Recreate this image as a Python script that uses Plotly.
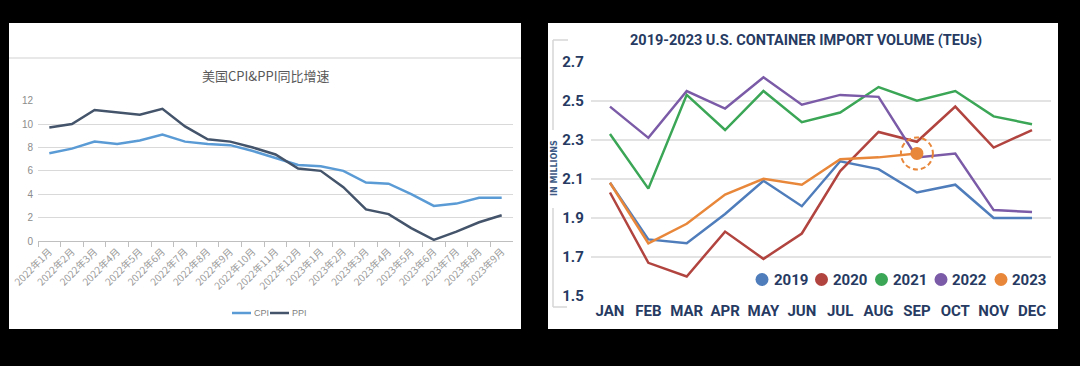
import plotly.graph_objects as go

W, H = 1080, 366

# ---------------- data: left chart ----------------
months_cn = ["2022年1月", "2022年2月", "2022年3月", "2022年4月", "2022年5月", "2022年6月",
             "2022年7月", "2022年8月", "2022年9月", "2022年10月", "2022年11月", "2022年12月",
             "2023年1月", "2023年2月", "2023年3月", "2023年4月", "2023年5月", "2023年6月",
             "2023年7月", "2023年8月", "2023年9月"]
cpi = [7.5, 7.9, 8.5, 8.3, 8.6, 9.1, 8.5, 8.3, 8.2, 7.7, 7.1, 6.5, 6.4, 6.0, 5.0, 4.9, 4.0, 3.0, 3.2, 3.7, 3.7]
ppi = [9.7, 10.0, 11.2, 11.0, 10.8, 11.3, 9.8, 8.7, 8.5, 8.0, 7.4, 6.2, 6.0, 4.6, 2.7, 2.3, 1.1, 0.1, 0.8, 1.6, 2.2]
left_yticks = [0, 2, 4, 6, 8, 10, 12]

# ---------------- data: right chart ----------------
months_en = ["JAN", "FEB", "MAR", "APR", "MAY", "JUN", "JUL", "AUG", "SEP", "OCT", "NOV", "DEC"]
v2019 = [2.08, 1.79, 1.77, 1.92, 2.09, 1.96, 2.19, 2.15, 2.03, 2.07, 1.90, 1.90]
v2020 = [2.03, 1.67, 1.60, 1.83, 1.69, 1.82, 2.14, 2.34, 2.29, 2.47, 2.26, 2.35]
v2021 = [2.33, 2.05, 2.53, 2.35, 2.55, 2.39, 2.44, 2.57, 2.50, 2.55, 2.42, 2.38]
v2022 = [2.47, 2.31, 2.55, 2.46, 2.62, 2.48, 2.53, 2.52, 2.21, 2.23, 1.94, 1.93]
v2023 = [2.08, 1.77, 1.87, 2.02, 2.10, 2.07, 2.20, 2.21, 2.23]
right_yticks = [1.5, 1.7, 1.9, 2.1, 2.3, 2.5, 2.7]
years = ["2019", "2020", "2021", "2022", "2023"]
year_colors = ["#4f7dbb", "#b2443f", "#3aa656", "#7b5ba7", "#e8873a"]

NAVY = "#263a62"
CFONT = "Roboto"

# right plot geometry (px), used to turn a pixel radius into axis units
R_X0, R_X1 = 590.8, 1051.2
R_Y0, R_Y1 = 296, 61.7


def px_x(p):
    return p / W


def px_y(p):
    return 1 - p / H


fig = go.Figure()

# left chart traces
fig.add_trace(go.Scatter(x=months_cn, y=cpi, mode="lines", line=dict(color="#5b9bd5", width=2.5),
                         xaxis="x", yaxis="y", showlegend=False, name="CPI"))
fig.add_trace(go.Scatter(x=months_cn, y=ppi, mode="lines", line=dict(color="#44546a", width=2.5),
                         xaxis="x", yaxis="y", showlegend=False, name="PPI"))

# right chart traces
for name, vals, col in zip(years, [v2019, v2020, v2021, v2022, v2023], year_colors):
    fig.add_trace(go.Scatter(x=months_en[:len(vals)], y=vals, mode="lines",
                             line=dict(color=col, width=2.5), xaxis="x2", yaxis="y2",
                             showlegend=False, name=name))
# highlighted last point of 2023
last_i = len(v2023) - 1
fig.add_trace(go.Scatter(x=[months_en[last_i]], y=[v2023[-1]], mode="markers",
                         marker=dict(color=year_colors[4], size=13), xaxis="x2", yaxis="y2",
                         showlegend=False))

shapes = []
# panels
shapes.append(dict(type="rect", xref="paper", yref="paper", x0=px_x(9), x1=px_x(521),
                   y0=px_y(329), y1=px_y(23), fillcolor="white", line=dict(width=0), layer="below"))
shapes.append(dict(type="rect", xref="paper", yref="paper", x0=px_x(548), x1=px_x(1058),
                   y0=px_y(329), y1=px_y(23), fillcolor="white", line=dict(width=0), layer="below"))
# faint line in left panel
shapes.append(dict(type="line", xref="paper", yref="paper", x0=px_x(9), x1=px_x(521),
                   y0=px_y(58), y1=px_y(58), line=dict(color="#e0e0e0", width=1.5)))
# left legend lines
shapes.append(dict(type="line", xref="paper", yref="paper", x0=px_x(232), x1=px_x(251),
                   y0=px_y(313), y1=px_y(313), line=dict(color="#5b9bd5", width=2.5)))
shapes.append(dict(type="line", xref="paper", yref="paper", x0=px_x(270), x1=px_x(289),
                   y0=px_y(313), y1=px_y(313), line=dict(color="#44546a", width=2.5)))
# bracket on right chart
br = "#d6d6d6"
for (xa, ya, xb, yb) in [(553, 40, 568, 40), (553, 40, 553, 130), (553, 208, 553, 307), (553, 307, 567, 307)]:
    shapes.append(dict(type="line", xref="paper", yref="paper", x0=px_x(xa), x1=px_x(xb),
                       y0=px_y(ya), y1=px_y(yb), line=dict(color=br, width=1.5)))
# dashed circle around the last 2023 point (radius 16 px converted to axis units)
rad = 16
dx = rad * len(months_en) / (R_X1 - R_X0)
dy = rad * (right_yticks[-1] - right_yticks[0]) / (R_Y0 - R_Y1)
shapes.append(dict(type="circle", xref="x2", yref="y2",
                   x0=last_i - dx, x1=last_i + dx, y0=v2023[-1] - dy, y1=v2023[-1] + dy,
                   line=dict(color=year_colors[4], width=2, dash="5px,3px")))
# right legend circles
leg_cx = [762, 821.5, 881.5, 941, 1001]
for cx, col in zip(leg_cx, year_colors):
    shapes.append(dict(type="circle", xref="paper", yref="paper",
                       x0=px_x(cx - 6.5), x1=px_x(cx + 6.5), y0=px_y(279.5 + 6.5), y1=px_y(279.5 - 6.5),
                       fillcolor=col, line=dict(width=0)))

annotations = []
annotations.append(dict(text="美国CPI&PPI同比增速", xref="paper", yref="paper", x=px_x(265), y=px_y(75),
                        showarrow=False, xanchor="center", yanchor="middle",
                        font=dict(family="Noto Sans CJK SC", size=13, color="#595959")))
annotations.append(dict(text="CPI", xref="paper", yref="paper", x=px_x(252), y=px_y(313),
                        showarrow=False, xanchor="left", yanchor="middle",
                        font=dict(family="Liberation Sans", size=9, color="#7f7f7f")))
annotations.append(dict(text="PPI", xref="paper", yref="paper", x=px_x(290), y=px_y(313),
                        showarrow=False, xanchor="left", yanchor="middle",
                        font=dict(family="Liberation Sans", size=9, color="#7f7f7f")))
annotations.append(dict(text="<b>2019-2023 U.S. CONTAINER IMPORT VOLUME (TEUs)</b>", xref="paper", yref="paper",
                        x=px_x(806), y=px_y(40), showarrow=False, xanchor="center", yanchor="middle",
                        font=dict(family=CFONT, size=14.5, color=NAVY)))
annotations.append(dict(text="<b>IN MILLIONS</b>", xref="paper", yref="paper", x=px_x(554), y=px_y(168),
                        showarrow=False, xanchor="center", yanchor="middle", textangle=-90,
                        font=dict(family="DejaVu Sans", size=8, color="#3d5a85")))
leg_tx = [771.5, 830.5, 890.5, 950, 1010]
for tx, name in zip(leg_tx, years):
    annotations.append(dict(text="<b>" + name + "</b>", xref="paper", yref="paper", x=px_x(tx), y=px_y(279.5),
                            showarrow=False, xanchor="left", yanchor="middle",
                            font=dict(family=CFONT, size=15, color=NAVY)))

fig.update_layout(
    width=W, height=H,
    margin=dict(l=0, r=0, t=0, b=0, pad=0),
    paper_bgcolor="black",
    plot_bgcolor="rgba(0,0,0,0)",
    showlegend=False,
    shapes=shapes,
    annotations=annotations,
    xaxis=dict(domain=[px_x(38), px_x(513)], type="category", range=[-0.5, len(months_cn) - 0.5],
               tickson="boundaries", ticks="outside", ticklen=5, tickcolor="#bfbfbf",
               showline=True, linecolor="#bfbfbf", linewidth=1, showgrid=False,
               tickangle=-45, tickfont=dict(family="Noto Sans CJK SC", size=10, color="#9a9a9a"),
               anchor="y", fixedrange=True, automargin=False),
    yaxis=dict(domain=[px_y(241), px_y(100.7)], range=[0, 12], tickvals=left_yticks,
               showgrid=True, gridcolor="#d9d9d9", gridwidth=1, zeroline=False,
               showline=False, tickfont=dict(family="Liberation Sans", size=10, color="#8c8c8c"),
               ticklabelstandoff=4, anchor="x", fixedrange=True, automargin=False),
    xaxis2=dict(domain=[px_x(R_X0), px_x(R_X1)], type="category", range=[-0.5, len(months_en) - 0.5],
                showgrid=False, showline=False, ticks="", tickangle=0,
                tickfont=dict(family=CFONT, size=15, color=NAVY, weight="bold"),
                ticklabelstandoff=4, anchor="y2", fixedrange=True, automargin=False),
    yaxis2=dict(domain=[px_y(R_Y0), px_y(R_Y1)], range=[right_yticks[0], right_yticks[-1]], tickvals=right_yticks,
                ticktext=[f"{v:.1f}" for v in right_yticks],
                showgrid=True, gridcolor="#e3e3e3", gridwidth=1.5, zeroline=False, showline=False,
                tickfont=dict(family=CFONT, size=15, color=NAVY, weight="bold"),
                ticklabelstandoff=6, anchor="x2", fixedrange=True, automargin=False),
)

fig.write_html("out.html", config={"displayModeBar": False},
               post_script="document.body.style.margin='0px';document.body.style.background='black';")
